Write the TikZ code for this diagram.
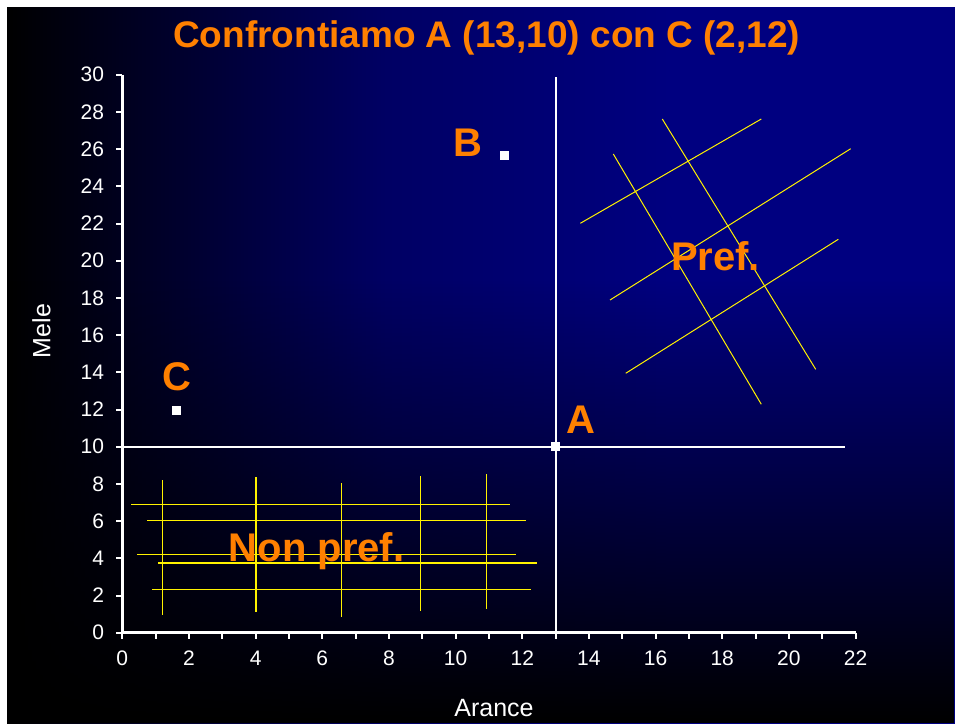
\documentclass[tikz,border=0pt]{standalone}
\usepackage{fontspec}
\setmainfont{Liberation Sans}
\usetikzlibrary{fadings}
\definecolor{navyb}{RGB}{0,0,128}
\definecolor{midb}{RGB}{0,0,100}
\definecolor{orng}{RGB}{255,128,0}
\pgfdeclarehorizontalshading{bgh}{100bp}{color(0bp)=(black); color(25bp)=(black); color(45bp)=(midb); color(60bp)=(navyb); color(100bp)=(navyb)}
\tikzfading[name=vfade, top color=transparent!100, bottom color=transparent!0]
\begin{document}
\begin{tikzpicture}[x=1pt,y=-1pt,
  lbl/.style={text=orng, font=\bfseries\fontsize{40}{40}\selectfont, inner sep=0pt, anchor=base},
  ticklbl/.style={text=white, font=\fontsize{21}{21}\selectfont, inner sep=0pt},
  axlbl/.style={text=white, font=\fontsize{25}{25}\selectfont, inner sep=0pt},
  hatch/.style={draw=yellow, line width=1pt},
  hatchb/.style={draw=yellow, line width=2.2pt},
  dot/.style={fill=white, minimum size=9pt, inner sep=0pt, draw=none, rectangle},
  axisline/.style={draw=white, line width=2.6pt},
  tickline/.style={draw=white, line width=2pt},
  cross/.style={draw=white, line width=2pt}]

\useasboundingbox (0,0) rectangle (955,723);
\fill[white] (0,0) rectangle (955,723);
\shade[shading=bgh] (7,7) rectangle (955,723);
\fill[black, path fading=vfade] (7,280) rectangle (955,723);

% title
\node[lbl, font=\bfseries\fontsize{37}{37}\selectfont] (title) at (486.7,47) {Confrontiamo A (13,10) con C (2,12)};

% yellow hatching, non preferred region
\draw[hatch] (131,504.3) -- (509.7,504.3);
\draw[hatch] (147.3,520.3) -- (526,520.3);
\draw[hatch] (137,554.3) -- (516,554.3);
\draw[hatchb] (158.3,563) -- (536.7,563);
\draw[hatch, line width=0.8pt] (152.3,589) -- (531,589);
\draw[hatch] (162.3,480.3) -- (162.3,614.7);
\draw[hatchb] (255.7,477) -- (255.7,611.7);
\draw[hatch, line width=0.8pt] (341.3,483.3) -- (341.3,617.3);
\draw[hatch] (420.3,476) -- (420.3,610.7);
\draw[hatch] (486.3,474) -- (486.3,608.7);

% yellow hatching, preferred region
\draw[hatch] (580.3,223.3) -- (761.3,119);
\draw[hatch] (610,300) -- (850.7,148.7);
\draw[hatch] (625.7,373.3) -- (838.3,239.3);
\draw[hatch] (613.3,154) -- (761.3,404.3);
\draw[hatch] (662.3,119) -- (815.7,369.3);

\begin{scope}[shift={(122.3pt,-632.7pt)}, x=33.33pt, y=18.6pt]
  \foreach \v in {0,2,...,30} {
    \draw[tickline] (0,\v) -- ++(-6pt,0pt);
    \node[ticklbl, anchor=east] (yl\v) at (-0.54,\v) {\v};
  }
  \foreach \v in {0,...,22} {
    \draw[tickline] (\v,0) -- ++(0pt,-6pt);
  }
  \foreach \v in {0,2,...,22} {
    \node[ticklbl] (xl\v) at (\v,-1.387) {\v};
  }
  \draw[axisline] (0,30) -- (0,0) -- (22,0);
  \coordinate (vtop) at (13,29.85);
  \coordinate (vbot) at (13,0);
  \coordinate (hleft) at (0,10);
  \coordinate (hright) at (21.68,10);
  \draw[cross] (vbot) -- (vtop);
  \draw[cross] (hleft) -- (hright);
  \node[dot] (A) at (13,10) {};
  \node[dot] (B) at (11.47,25.68) {};
  \node[dot] (C) at (1.63,11.96) {};
\end{scope}

\node[lbl] (labB) at (468.3,156.7) {B};
\node[lbl] (labC) at (176.7,390.3) {C};
\node[lbl] (labA) at (580.5,433.3) {A};
\node[lbl] (pref) at (715.5,270.7) {Pref.};
\node[lbl] (npref) at (316.5,561.7) {Non pref.};

\node[axlbl, anchor=base] (xt) at (494,716.7) {Arance};
\node[axlbl, rotate=90] (yt) at (41.5,331) {Mele};
\end{tikzpicture}
\end{document}
